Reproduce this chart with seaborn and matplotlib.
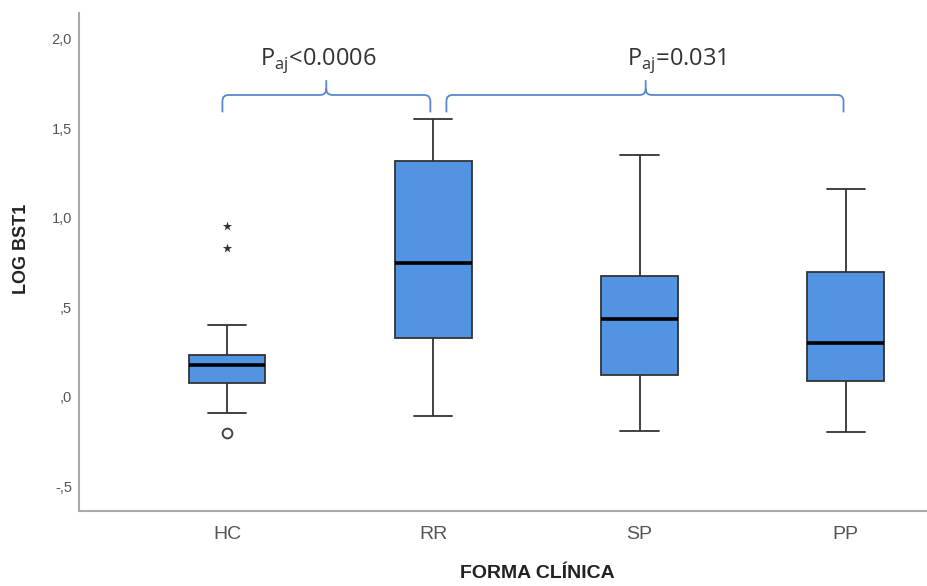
import numpy as np
import pandas as pd
import matplotlib
matplotlib.use("Agg")
import matplotlib.pyplot as plt
from matplotlib.path import Path
from matplotlib.patches import PathPatch
import seaborn as sns

sns.set_style("white")
plt.rcParams["font.family"] = ["Liberation Sans", "DejaVu Sans"]

# values (five-number summaries per group)
groups = ["HC", "RR", "SP", "PP"]
whisker_low = [-0.09, -0.106, -0.19, -0.196]
q1 = [0.08, 0.33, 0.123, 0.09]
median = [0.18, 0.75, 0.436, 0.30]
q3 = [0.235, 1.32, 0.676, 0.698]
whisker_high = [0.40, 1.553, 1.35, 1.162]

# HC outliers
hc_outliers = [-0.20]
hc_extremes = [0.955, 0.83]

yticks = [-0.5, 0.0, 0.5, 1.0, 1.5, 2.0]
ytick_labels = ["-,5", ",0", ",5", "1,0", "1,5", "2,0"]

p_texts = [r"P$_{\mathregular{aj}}$<0.0006", r"P$_{\mathregular{aj}}$=0.031"]

# long table from the summaries
rows = []
for i, g in enumerate(groups):
    for v in [whisker_low[i], q1[i], median[i], q3[i], whisker_high[i]]:
        rows.append({"FORMA CLÍNICA": g, "LOG BST1": v})
df = pd.DataFrame(rows)

fig = plt.figure(figsize=(9.28, 5.86), dpi=100)
ax = fig.add_axes([79 / 928, 1 - 511 / 586, 1 - 79 / 928, (511 - 13) / 586])

sns.boxplot(data=df, x="FORMA CLÍNICA", y="LOG BST1", order=groups,
            width=0.37, color="#5294E2", saturation=1, linecolor="#333333",
            linewidth=1.3, showfliers=False,
            medianprops=dict(color="black", linewidth=2.6), ax=ax)

sns.stripplot(x=[groups[0]] * len(hc_extremes), y=hc_extremes, order=groups,
              jitter=False, marker="*", color="#333333", size=7, ax=ax)
sns.stripplot(x=[groups[0]] * len(hc_outliers), y=hc_outliers, order=groups,
              jitter=False, marker="o", color="white", edgecolor="#444444",
              linewidth=1.4, size=7, ax=ax)


def brace(ax, x0, x1, xm, y, down, up, rx=0.03, ry=0.035, color="#5B87D0"):
    verts = [(x0, y - down), (x0, y - ry), (x0, y), (x0 + rx, y),
             (xm - rx, y), (xm, y), (xm, y + ry), (xm, y + up),
             (xm, y + ry), (xm, y), (xm + rx, y),
             (x1 - rx, y), (x1, y), (x1, y - ry), (x1, y - down)]
    codes = [Path.MOVETO, Path.LINETO, Path.CURVE3, Path.CURVE3,
             Path.LINETO, Path.CURVE3, Path.CURVE3, Path.LINETO,
             Path.MOVETO, Path.CURVE3, Path.CURVE3,
             Path.LINETO, Path.CURVE3, Path.CURVE3, Path.LINETO]
    ax.add_patch(PathPatch(Path(verts, codes), fill=False, edgecolor=color,
                           lw=1.3, clip_on=False))


brace(ax, -0.024, 0.985, 0.48, 1.687, 0.097, 0.083)
brace(ax, 1.063, 2.99, 2.03, 1.687, 0.097, 0.083)
ax.text(0.44, 1.88, p_texts[0], ha="center", va="center", fontsize=17,
        color="#333333", family="Open Sans")
ax.text(2.18, 1.88, p_texts[1], ha="center", va="center", fontsize=17,
        color="#333333", family="Open Sans")

ax.set_xlim(-0.72, 3.40)
ax.set_ylim(-0.637, 2.145)
ax.set_yticks(yticks)
ax.set_yticklabels(ytick_labels)
ax.tick_params(axis="y", length=0, pad=5, labelsize=10.5, labelcolor="#555555")
ax.tick_params(axis="x", length=0, pad=11, labelsize=14, labelcolor="#555555")

for s in ["top", "right"]:
    ax.spines[s].set_visible(False)
for s in ["left", "bottom"]:
    ax.spines[s].set_color("#aaaaaa")
    ax.spines[s].set_linewidth(1.5)

ax.set_xlabel("FORMA CLÍNICA", fontsize=14, fontweight="bold", color="#222222")
ax.set_ylabel("LOG BST1", fontsize=13, fontweight="bold", color="#222222")
ax.xaxis.label.set_va("center")
ax.yaxis.label.set_va("center")
ax.xaxis.set_label_coords((537 - 79) / 849, (511 - 573) / 498)
ax.yaxis.set_label_coords((22 - 79) / 849, (511 - 249) / 498)

fig.savefig("out.png", dpi=100)
